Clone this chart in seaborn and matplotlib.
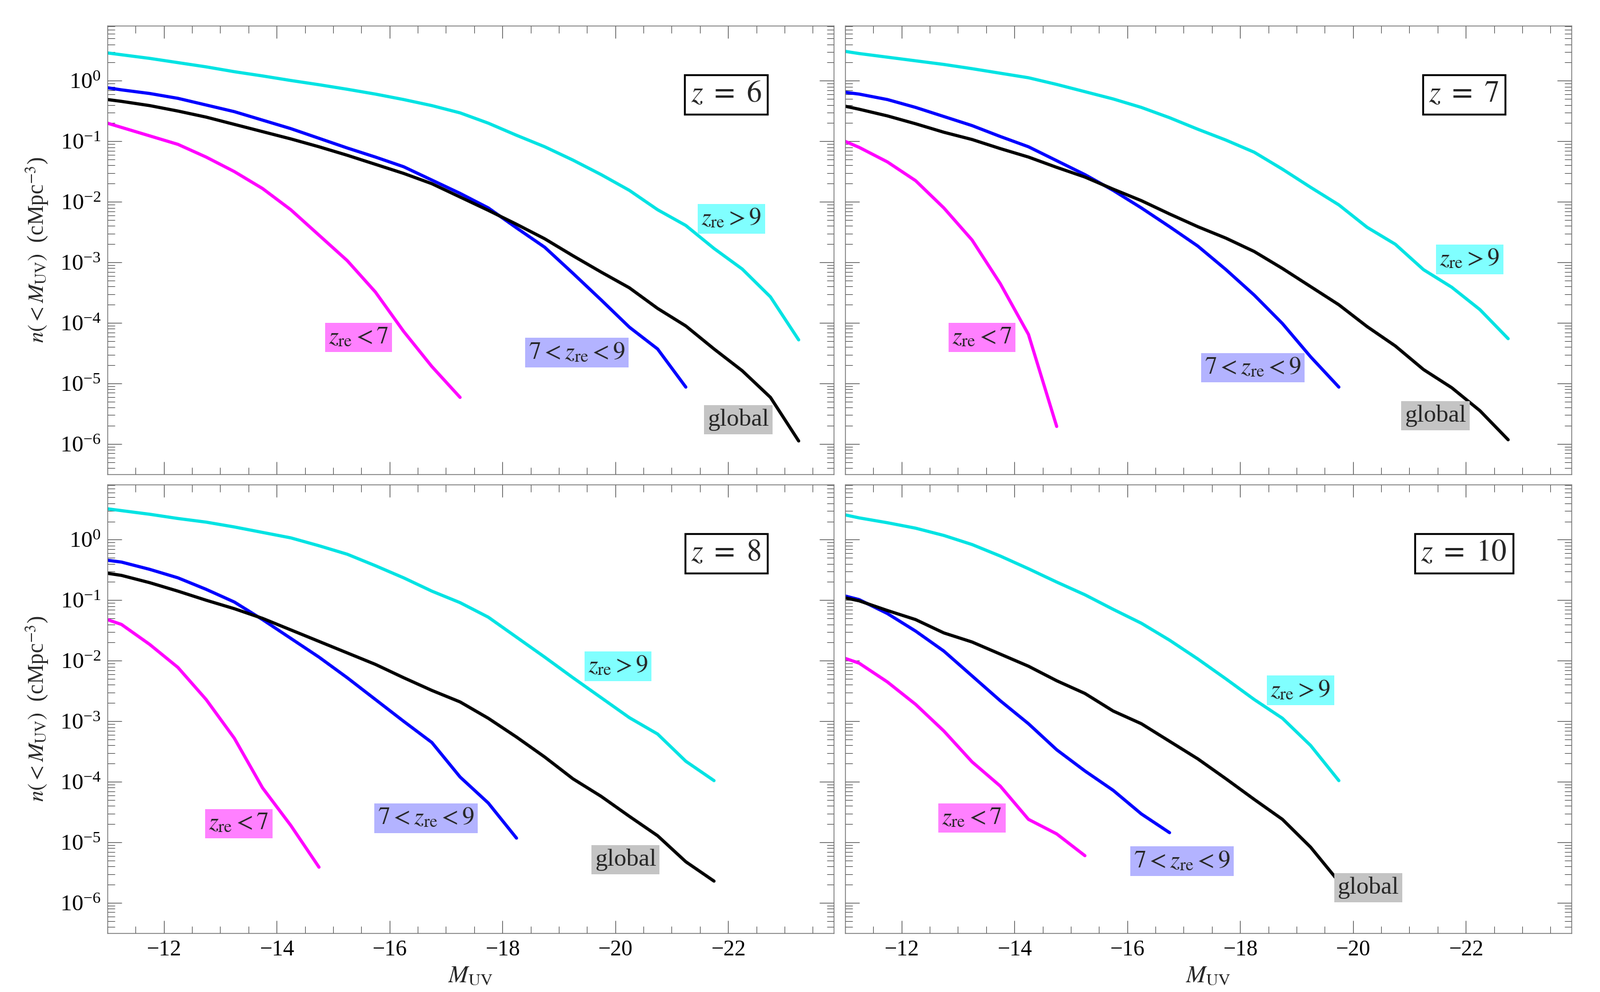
import numpy as np
import pandas as pd
import matplotlib
matplotlib.use("Agg")
import matplotlib.pyplot as plt
import seaborn as sns
from matplotlib.ticker import MultipleLocator, LogLocator, NullFormatter

# magnitude bins (first point sits on the left frame edge)
MUV = [-11.0, -11.25, -11.75, -12.25, -12.75, -13.25, -13.75, -14.25, -14.75,
       -15.25, -15.75, -16.25, -16.75, -17.25, -17.75, -18.25, -18.75, -19.25,
       -19.75, -20.25, -20.75, -21.25, -21.75, -22.25, -22.75, -23.25]

# log10 n(<M_UV) in cMpc^-3
z6_hi = [0.46, 0.43, 0.37, 0.30, 0.23, 0.15, 0.08, 0.005, -0.065, -0.14, -0.22, -0.31, -0.41,
         -0.53, -0.70, -0.90, -1.09, -1.31, -1.55, -1.81, -2.13, -2.39, -2.77, -3.11, -3.57, -4.28]
z6_mid = [-0.115, -0.15, -0.21, -0.29, -0.40, -0.51, -0.65, -0.79, -0.95, -1.11, -1.26, -1.42,
          -1.64, -1.86, -2.10, -2.43, -2.75, -3.18, -3.62, -4.07, -4.43, -5.06]
z6_glob = [-0.31, -0.34, -0.41, -0.50, -0.60, -0.72, -0.84, -0.96, -1.09, -1.23, -1.38, -1.53, -1.70,
           -1.92, -2.14, -2.37, -2.61, -2.89, -3.16, -3.42, -3.76, -4.05, -4.43, -4.79, -5.23, -5.95]
z6_lo = [-0.70, -0.77, -0.91, -1.05, -1.26, -1.50, -1.78, -2.13, -2.55, -2.97, -3.49, -4.14, -4.72, -5.23]

z7_hi = [0.486, 0.45, 0.39, 0.33, 0.27, 0.20, 0.125, 0.05, -0.06, -0.18, -0.30, -0.44, -0.61,
         -0.80, -0.98, -1.18, -1.46, -1.76, -2.05, -2.42, -2.70, -3.12, -3.41, -3.78, -4.26]
z7_mid = [-0.19, -0.22, -0.31, -0.44, -0.59, -0.74, -0.92, -1.09, -1.32, -1.55, -1.81, -2.10,
          -2.41, -2.73, -3.12, -3.54, -4.01, -4.56, -5.06]
z7_glob = [-0.42, -0.47, -0.58, -0.71, -0.85, -0.97, -1.12, -1.26, -1.43, -1.59, -1.79, -1.98, -2.20,
           -2.41, -2.60, -2.82, -3.10, -3.40, -3.70, -4.06, -4.38, -4.77, -5.07, -5.45, -5.93]
z7_lo = [-1.00, -1.10, -1.34, -1.65, -2.10, -2.63, -3.35, -4.19, -5.71]

z8_hi = [0.51, 0.48, 0.42, 0.35, 0.29, 0.21, 0.12, 0.03, -0.10, -0.24, -0.43, -0.63, -0.85,
         -1.04, -1.28, -1.61, -1.94, -2.28, -2.61, -2.94, -3.21, -3.66, -3.98]
z8_mid = [-0.34, -0.37, -0.49, -0.63, -0.82, -1.03, -1.32, -1.63, -1.94, -2.28, -2.64, -3.00,
          -3.35, -3.92, -4.35, -4.93]
z8_glob = [-0.555, -0.59, -0.71, -0.85, -1.00, -1.14, -1.30, -1.49, -1.68, -1.87, -2.06, -2.28,
           -2.49, -2.68, -2.95, -3.26, -3.59, -3.95, -4.24, -4.57, -4.89, -5.32, -5.64]
z8_lo = [-1.32, -1.40, -1.73, -2.11, -2.64, -3.28, -4.10, -4.72, -5.41]

z10_hi = [0.41, 0.36, 0.28, 0.19, 0.07, -0.08, -0.27, -0.48, -0.70, -0.91, -1.15, -1.38, -1.66,
          -1.97, -2.30, -2.64, -2.95, -3.40, -3.98]
z10_mid = [-0.93, -0.99, -1.22, -1.51, -1.84, -2.25, -2.66, -3.04, -3.47, -3.82, -4.14, -4.53, -4.84]
z10_glob = [-0.96, -1.01, -1.17, -1.32, -1.54, -1.69, -1.89, -2.09, -2.33, -2.54, -2.83, -3.04,
            -3.33, -3.62, -3.95, -4.29, -4.62, -5.08, -5.65]
z10_lo = [-1.96, -2.04, -2.35, -2.72, -3.16, -3.67, -4.07, -4.62, -4.86, -5.22]

redshifts = [6, 7, 8, 10]
curves = {
    6: {"hi": z6_hi, "mid": z6_mid, "glob": z6_glob, "lo": z6_lo},
    7: {"hi": z7_hi, "mid": z7_mid, "glob": z7_glob, "lo": z7_lo},
    8: {"hi": z8_hi, "mid": z8_mid, "glob": z8_glob, "lo": z8_lo},
    10: {"hi": z10_hi, "mid": z10_mid, "glob": z10_glob, "lo": z10_lo},
}

# label text, line colour, box colour
labels = {"hi": r"$z_{\mathrm{re}} > 9$", "mid": r"$7 < z_{\mathrm{re}} < 9$",
          "glob": "global", "lo": r"$z_{\mathrm{re}} < 7$"}
line_colors = {"hi": "#00e3e3", "mid": "#0000ff", "glob": "#000000", "lo": "#ff00ff"}
box_colors = {"hi": "#80ffff", "mid": "#b3b3ff", "glob": "#c4c4c4", "lo": "#ff80ff"}

# label anchor points (M_UV, log10 n)
label_pos = {
    6: {"hi": (-22.06, -2.28), "mid": (-19.32, -4.49), "glob": (-22.18, -5.60), "lo": (-15.45, -4.24)},
    7: {"hi": (-22.07, -2.95), "mid": (-18.23, -4.74), "glob": (-21.46, -5.53), "lo": (-13.43, -4.24)},
    8: {"hi": (-20.05, -2.09), "mid": (-16.65, -4.60), "glob": (-20.18, -5.29), "lo": (-13.33, -4.69)},
    10: {"hi": (-19.07, -2.49), "mid": (-16.97, -5.31), "glob": (-20.27, -5.75), "lo": (-13.25, -4.60)},
}

rows = []
for z in redshifts:
    for key, vals in curves[z].items():
        for m, v in zip(MUV, vals):
            rows.append({"z": z, "series": key, "MUV": m, "n": 10.0 ** v})
df = pd.DataFrame(rows)

sns.set_style("ticks")
plt.rcParams["font.family"] = ["Liberation Serif", "DejaVu Serif"]
plt.rcParams["mathtext.fontset"] = "stix"
plt.rcParams.update({
    "xtick.direction": "in", "ytick.direction": "in",
    "xtick.top": True, "ytick.right": True,
    "xtick.major.size": 16, "xtick.minor.size": 9,
    "ytick.major.size": 18, "ytick.minor.size": 9,
    "xtick.major.width": 0.9, "xtick.minor.width": 0.8,
    "ytick.major.width": 0.9, "ytick.minor.width": 0.8,
    "xtick.color": "#505050", "ytick.color": "#505050",
    "xtick.labelcolor": "black", "ytick.labelcolor": "black",
    "axes.edgecolor": "#707070", "axes.linewidth": 1.0,
})

fig, axes = plt.subplots(2, 2, figsize=(28, 17.36), dpi=100, sharex=True, sharey=True)
fig.subplots_adjust(left=0.0671, right=0.9821, top=0.9741, bottom=0.0593,
                    wspace=0.0157, hspace=0.023)

for ax, z in zip(axes.flat, redshifts):
    sub = df[df["z"] == z]
    for key in ["hi", "mid", "glob", "lo"]:
        s = sub[sub["series"] == key]
        sns.lineplot(data=s, x="MUV", y="n", ax=ax, color=line_colors[key],
                     lw=4.0, estimator=None, errorbar=None, legend=False)
        lx, ly = label_pos[z][key]
        ax.text(lx, 10.0 ** ly, labels[key], fontsize=31, ha="center", va="center",
                bbox=dict(boxstyle="square,pad=0.14", facecolor=box_colors[key], edgecolor="none"))
    ax.text(0.852, 0.847, r"$z\ =\ %d$" % z, transform=ax.transAxes, fontsize=38,
            ha="center", va="center",
            bbox=dict(boxstyle="square,pad=0.2", facecolor="white", edgecolor="black", linewidth=2.4))

    ax.set_yscale("log")
    ax.set_xlim(-11, -23.87)
    ax.set_ylim(10 ** -6.5, 10 ** 0.91)
    ax.xaxis.set_major_locator(MultipleLocator(2))
    ax.xaxis.set_minor_locator(MultipleLocator(0.5))
    ax.yaxis.set_major_locator(LogLocator(base=10, numticks=20))
    ax.yaxis.set_minor_locator(LogLocator(base=10, subs=np.arange(2, 10), numticks=20))
    ax.yaxis.set_minor_formatter(NullFormatter())
    ax.tick_params(axis="x", which="both", labelsize=28, pad=8)
    ax.tick_params(axis="y", which="both", labelsize=29, pad=8)
    ax.set_xlabel("")
    ax.set_ylabel("")
    for sp in ax.spines.values():
        sp.set_visible(True)

for ax in axes[:, 0]:
    ax.set_ylabel(r"$n(<M_{\mathrm{UV}})$  (cMpc$^{-3}$)", fontsize=28, labelpad=12)
for ax in axes[1, :]:
    ax.set_xlabel(r"$M_{\mathrm{UV}}$", fontsize=30, labelpad=6)

fig.savefig("out.png", dpi=100)
